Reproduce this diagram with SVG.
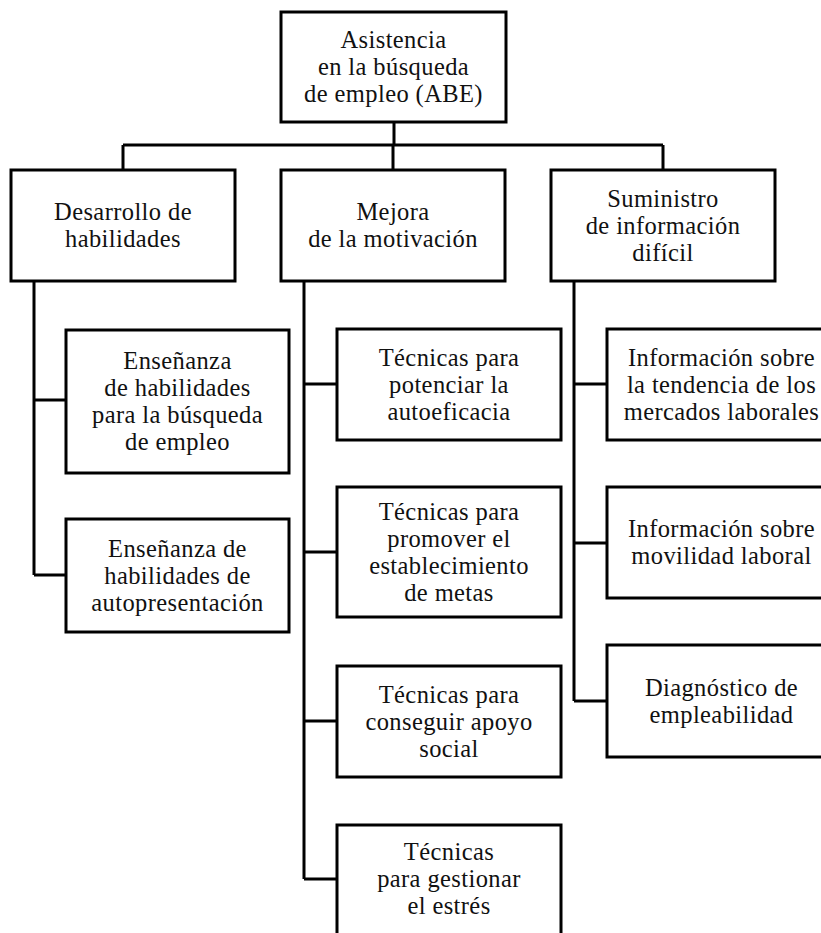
<svg xmlns="http://www.w3.org/2000/svg" width="821" height="933" viewBox="0 0 821 933">
<style>
.box{fill:#fff;stroke:#000;stroke-width:3}
.t{font-family:"Liberation Serif","Times New Roman",serif;font-size:24.5px;letter-spacing:0.4px;fill:#111;text-anchor:middle}
.c{fill:none;stroke:#000;stroke-width:3}
</style>
<rect width="821" height="933" fill="#fff"/>
<g id="connectors">
<path class="c" d="M394 122V145M123 145H663M123 145V170M393 145V170M663 145V170"/>
<path class="c" d="M34 281V575M34 400H66M34 575H66"/>
<path class="c" d="M304 281V879M304 384H337M304 552H337M304 721H337M304 879H337"/>
<path class="c" d="M574 281V701M574 384H607M574 543H607M574 701H607"/>
</g>
<g id="n-root"><rect class="box" x="281" y="12" width="225" height="110"/>
<text class="t"><tspan x="393.5" y="48">Asistencia</tspan><tspan x="393.5" y="75">en la búsqueda</tspan><tspan x="393.5" y="102">de empleo (ABE)</tspan></text></g>
<g id="n-desarrollo"><rect class="box" x="11" y="170" width="224" height="111"/>
<text class="t"><tspan x="123" y="220">Desarrollo de</tspan><tspan x="123" y="247">habilidades</tspan></text></g>
<g id="n-mejora"><rect class="box" x="281" y="170" width="224" height="111"/>
<text class="t"><tspan x="393" y="220">Mejora</tspan><tspan x="393" y="247">de la motivación</tspan></text></g>
<g id="n-suministro"><rect class="box" x="551" y="170" width="224" height="111"/>
<text class="t"><tspan x="663" y="206.5">Suministro</tspan><tspan x="663" y="233.5">de información</tspan><tspan x="663" y="260.5">difícil</tspan></text></g>
<g id="n-ens1"><rect class="box" x="66" y="330" width="223" height="143"/>
<text class="t"><tspan x="177.5" y="369">Enseñanza</tspan><tspan x="177.5" y="396">de habilidades</tspan><tspan x="177.5" y="423">para la búsqueda</tspan><tspan x="177.5" y="450">de empleo</tspan></text></g>
<g id="n-ens2"><rect class="box" x="66" y="519" width="223" height="113"/>
<text class="t"><tspan x="177.5" y="556.5">Enseñanza de</tspan><tspan x="177.5" y="583.5">habilidades de</tspan><tspan x="177.5" y="610.5">autopresentación</tspan></text></g>
<g id="n-tec1"><rect class="box" x="337" y="329" width="224" height="111"/>
<text class="t"><tspan x="449" y="365.5">Técnicas para</tspan><tspan x="449" y="392.5">potenciar la</tspan><tspan x="449" y="419.5">autoeficacia</tspan></text></g>
<g id="n-tec2"><rect class="box" x="337" y="487" width="224" height="130"/>
<text class="t"><tspan x="449" y="519.5">Técnicas para</tspan><tspan x="449" y="546.5">promover el</tspan><tspan x="449" y="573.5">establecimiento</tspan><tspan x="449" y="600.5">de metas</tspan></text></g>
<g id="n-tec3"><rect class="box" x="337" y="666" width="224" height="111"/>
<text class="t"><tspan x="449" y="702.5">Técnicas para</tspan><tspan x="449" y="729.5">conseguir apoyo</tspan><tspan x="449" y="756.5">social</tspan></text></g>
<g id="n-tec4"><rect class="box" x="337" y="825" width="224" height="120"/>
<text class="t"><tspan x="449" y="860">Técnicas</tspan><tspan x="449" y="887">para gestionar</tspan><tspan x="449" y="914">el estrés</tspan></text></g>
<g id="n-inf1"><rect class="box" x="607" y="329" width="229" height="111"/>
<text class="t"><tspan x="721.5" y="365.5">Información sobre</tspan><tspan x="721.5" y="392.5">la tendencia de los</tspan><tspan x="721.5" y="419.5">mercados laborales</tspan></text></g>
<g id="n-inf2"><rect class="box" x="607" y="487" width="229" height="111"/>
<text class="t"><tspan x="721.5" y="537">Información sobre</tspan><tspan x="721.5" y="564">movilidad laboral</tspan></text></g>
<g id="n-diag"><rect class="box" x="607" y="645" width="229" height="112"/>
<text class="t"><tspan x="721.5" y="695.5">Diagnóstico de</tspan><tspan x="721.5" y="722.5">empleabilidad</tspan></text></g>
</svg>
